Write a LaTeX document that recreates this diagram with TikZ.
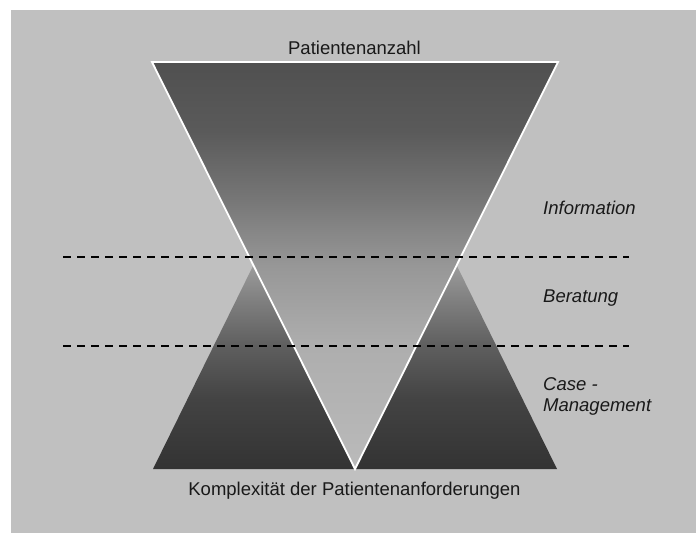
\documentclass[tikz,border=0pt]{standalone}
\usepackage{fontspec}
\setmainfont{Liberation Sans}

% grey tones
\definecolor{panel}{RGB}{192,192,192}
\definecolor{fa}{RGB}{186,186,186}
\definecolor{fb}{RGB}{174,174,174}
\definecolor{fc}{RGB}{151,151,151}
\definecolor{fd}{RGB}{119,119,119}
\definecolor{fe}{RGB}{90,90,90}
\definecolor{ff}{RGB}{80,80,80}
\definecolor{la}{RGB}{51,51,51}
\definecolor{lb}{RGB}{67,67,67}
\definecolor{lc}{RGB}{94,94,94}
\definecolor{ld}{RGB}{128,128,128}
\definecolor{le}{RGB}{156,156,156}

% funnel: dark at the top, light at the tip
\pgfdeclareverticalshading{funnelshade}{100bp}{%
  color(0bp)=(fa); color(25bp)=(fa); color(40bp)=(fb); color(50bp)=(fc);
  color(58bp)=(fd); color(66.5bp)=(fe); color(75bp)=(ff); color(100bp)=(ff)}
% pyramids: light at the apex, dark at the base
\pgfdeclareverticalshading{pyramidshade}{100bp}{%
  color(0bp)=(la); color(25bp)=(la); color(42bp)=(lb); color(55bp)=(lc);
  color(66.5bp)=(ld); color(75bp)=(le); color(100bp)=(le)}

\tikzset{
  label/.style={font=\fontsize{18.5}{21}\selectfont, inner sep=0pt, text=black!90},
  side/.style={label, font=\fontsize{18.5}{21}\selectfont\itshape, anchor=base west},
  level/.style={black, line width=2pt, dash pattern=on 8pt off 6pt},
}

\begin{document}
\begin{tikzpicture}[x=1pt,y=-1pt]
  % background
  \fill[white] (0,0) rectangle (696,533);
  \fill[panel] (11,10) rectangle (696,533);

  % corner points
  \coordinate (ftl) at (152,62);
  \coordinate (ftr) at (558,62);
  \coordinate (tip) at (355,469);
  \coordinate (lbl) at (153,469);
  \coordinate (lap) at (253.5,265);
  \coordinate (rap) at (456.5,265);
  \coordinate (rbr) at (557,469);

  % two pyramids
  \shade[shading=pyramidshade] (lbl) -- (lap) -- (tip) -- cycle;
  \shade[shading=pyramidshade] (tip) -- (rap) -- (rbr) -- cycle;

  % funnel
  \shade[shading=funnelshade] (ftl) -- (ftr) -- (tip) -- cycle;
  \draw[white, line width=1.8pt, line join=miter] (ftl) -- (ftr) -- (tip) -- cycle;

  % level separators
  \coordinate (s1a) at (63,257);
  \coordinate (s1b) at (629,257);
  \coordinate (s2a) at (63,346);
  \coordinate (s2b) at (629,346);
  \draw[level] (s1a) -- (s1b);
  \draw[level] (s2a) -- (s2b);

  % labels
  \node[label, anchor=base] (top) at (354.5,54) {Patientenanzahl};
  \node[label, anchor=base] (bottom) at (354.5,495.5) {Komplexität der Patientenanforderungen};
  \node[side] (info) at (543,214) {Information};
  \node[side] (ber) at (543,302) {Beratung};
  \node[side] (case) at (543,390) {Case -};
  \node[side] (mgmt) at (543,411) {Management};
\end{tikzpicture}
\end{document}
